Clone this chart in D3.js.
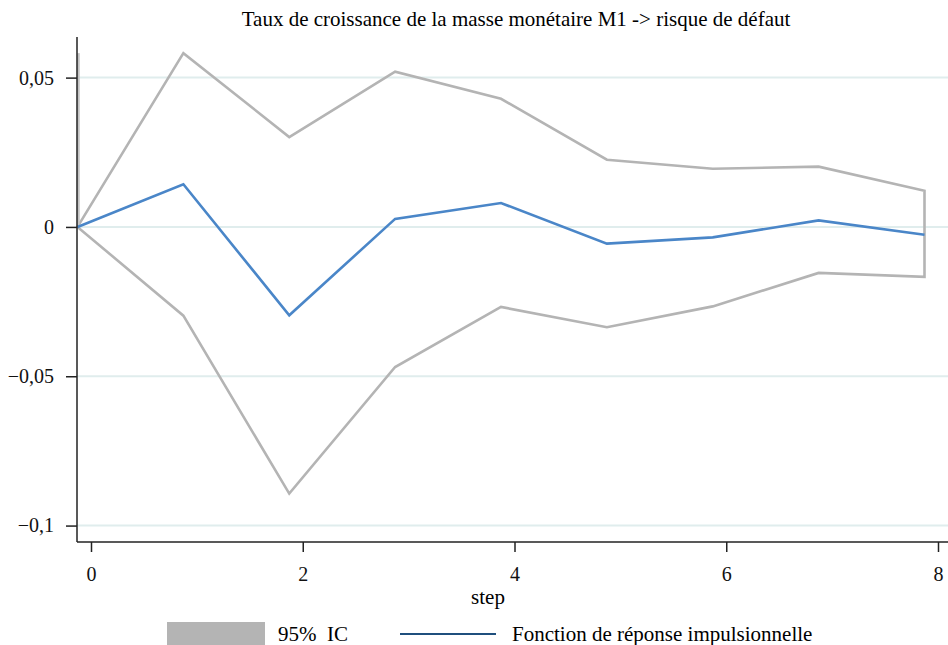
<!DOCTYPE html>
<html>
<head>
<meta charset="utf-8">
<script src="https://cdn.jsdelivr.net/npm/d3@7"></script>
<style>
  body { margin: 0; background: #fff; }
</style>
</head>
<body>
<svg id="chart" width="948" height="645"></svg>
<script>
// IRF data
const steps = [0, 1, 2, 3, 4, 5, 6, 7, 8];
const irf   = [0, 0.0143, -0.0296, 0.0027, 0.0080, -0.0056, -0.0035, 0.0022, -0.0026];
const upper = [0, 0.0582, 0.0301, 0.0520, 0.0429, 0.0225, 0.0195, 0.0202, 0.0121];
const lower = [0, -0.0297, -0.0893, -0.0469, -0.0268, -0.0336, -0.0266, -0.0154, -0.0167];
const xTicks = [0, 2, 4, 6, 8];
const yTicks = [0.05, 0, -0.05, -0.1];

const title = 'Taux de croissance de la masse monétaire M1 -> risque de défaut';
const serif = '"Liberation Serif", "DejaVu Serif", serif';

const svg = d3.select('#chart');
const plotL = 77, plotR = 948, plotT = 37, plotB = 542;

const x = d3.scaleLinear().domain([0, 8]).range([77.5, 924.5]);
const y = d3.scaleLinear().domain([-0.1055, 0.0636]).range([plotB, plotT]);
const tickShift = 13.5; // axis ticks sit a little right of the plotted steps

const fmt = v => v === 0 ? '0' : d3.format('')(v).replace('-', '\u2212').replace('.', ',');

// gridlines
svg.append('g')
  .selectAll('line')
  .data(yTicks)
  .enter().append('line')
  .attr('x1', plotL).attr('x2', plotR)
  .attr('y1', d => y(d)).attr('y2', d => y(d))
  .attr('stroke', '#e0eded')
  .attr('stroke-width', 2);

// CI outline
const ci = upper.map((u, i) => [steps[i], u])
  .concat(lower.map((l, i) => [steps[i], l]).reverse());

svg.append('path')
  .attr('d', d3.line().x(d => x(d[0])).y(d => y(d[1]))(ci) + 'Z')
  .attr('fill', 'none')
  .attr('stroke', '#b4b4b4')
  .attr('stroke-width', 2.6)
  .attr('stroke-linejoin', 'miter');

svg.append('line')
  .attr('x1', x(0) + 1).attr('x2', x(0) + 1)
  .attr('y1', y(0)).attr('y2', y(d3.max(upper)))
  .attr('stroke', '#c4c4c4')
  .attr('stroke-width', 2.5);

// irf line
svg.append('path')
  .datum(irf)
  .attr('d', d3.line().x((d, i) => x(steps[i])).y(d => y(d)))
  .attr('fill', 'none')
  .attr('stroke', '#4a86c8')
  .attr('stroke-width', 2.6);

// axes
const yAxis = svg.append('g')
  .attr('transform', `translate(${plotL},0)`)
  .call(d3.axisLeft(y).tickValues(yTicks).tickFormat(fmt).tickSize(11).tickPadding(12));
yAxis.select('.domain').attr('d', `M0,${plotT}V${plotB}`).attr('stroke', '#222').attr('stroke-width', 1.5);

const xAxis = svg.append('g')
  .attr('transform', `translate(${tickShift},${plotB})`)
  .call(d3.axisBottom(x).tickValues(xTicks).tickFormat(d3.format('d')).tickSize(10).tickPadding(15));
xAxis.select('.domain').attr('d', `M${plotL - tickShift},0H${plotR}`).attr('stroke', '#222').attr('stroke-width', 1.5);

svg.selectAll('.tick line').attr('stroke', '#222').attr('stroke-width', 1.5);
svg.selectAll('.tick text')
  .style('font-family', serif).style('font-size', '20px').attr('fill', '#111');

svg.append('text')
  .attr('x', 488).attr('y', 604)
  .attr('text-anchor', 'middle')
  .style('font-family', serif).style('font-size', '21px')
  .text('step');

svg.append('text')
  .attr('x', 516).attr('y', 26)
  .attr('text-anchor', 'middle')
  .style('font-family', serif).style('font-size', '21px')
  .text(title);

// legend
const lg = svg.append('g');
lg.append('rect')
  .attr('x', 167).attr('y', 622).attr('width', 98).attr('height', 23)
  .attr('fill', '#b4b4b4');
lg.append('text')
  .attr('x', 278).attr('y', 641)
  .style('font-family', serif).style('font-size', '21px')
  .attr('xml:space', 'preserve')
  .text('95%  IC');
lg.append('line')
  .attr('x1', 400).attr('x2', 496).attr('y1', 634).attr('y2', 634)
  .attr('stroke', '#1f4f7d').attr('stroke-width', 2);
lg.append('text')
  .attr('x', 512).attr('y', 641)
  .style('font-family', serif).style('font-size', '21px')
  .text('Fonction de réponse impulsionnelle');
</script>
</body>
</html>
